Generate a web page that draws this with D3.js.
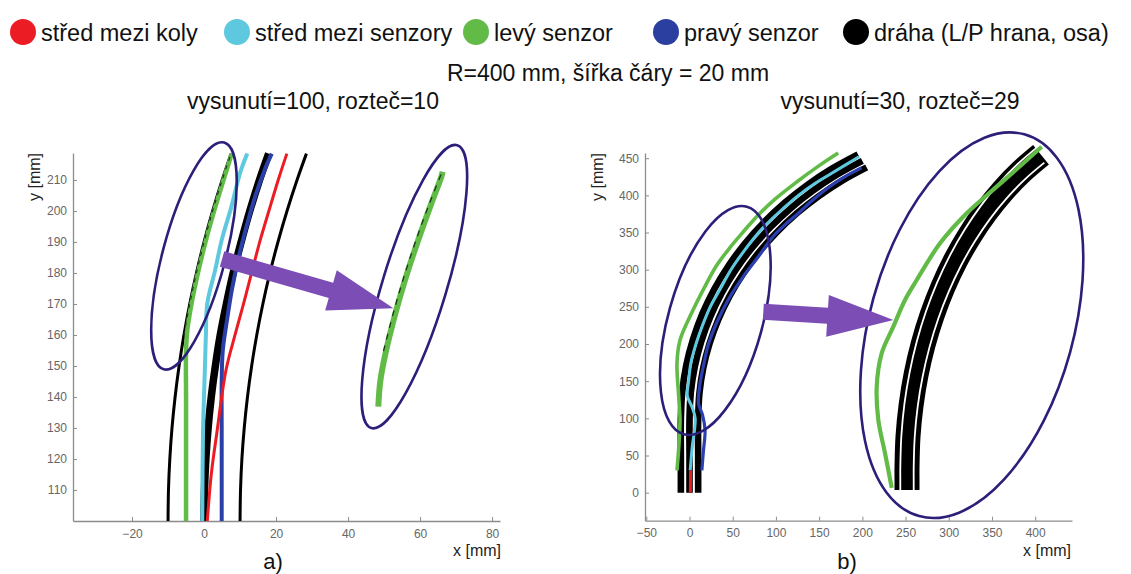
<!DOCTYPE html>
<html><head><meta charset="utf-8">
<script src="https://cdn.jsdelivr.net/npm/d3@7"></script>
<style>body{margin:0;background:#fff} svg text{font-family:"Liberation Sans",Arial,sans-serif}</style>
</head><body><svg id="c" width="1131" height="574"></svg>
<script>
// ---------- legend / titles ----------
const legendLabels = ["střed mezi koly","střed mezi senzory","levý senzor","pravý senzor","dráha (L/P hrana, osa)"];
const legendColors = ["#ec1c24","#5ec8de","#62bb46","#2b3fa0","#000000"];
const mainTitle = "R=400 mm, šířka čáry = 20 mm";
const subTitles = ["vysunutí=100, rozteč=10","vysunutí=30, rozteč=29"];
const panelLabels = ["a)","b)"];
const axisLabelX = "x [mm]", axisLabelY = "y [mm]";

// ---------- panel a) data (mm) ----------
const a_xTicks = [-20,0,20,40,60,80];
const a_yTicks = [110,120,130,140,150,160,170,180,190,200,210];
const a_trackY = [100,110,120,130,140,150,160,170,180,190,200,210,218.5];
const a_trackL = [-10,-9.88,-9.51,-8.9,-8.04,-6.94,-5.59,-3.98,-2.12,0,2.38,5.03,7.5];
const a_trackC = [0,0.13,0.5,1.13,2.0,3.14,4.5,6.2,8.1,10.3,12.7,15.4,17.95];
const a_trackR = [10,10.13,10.51,11.16,12.06,13.22,14.64,16.33,18.29,20.53,23.04,25.83,28.44];
const a_blueX = [4.9,4.9,4.9,5.2,6.4,7.8,9.6,11.8,14.3,17.1,18.8];
const a_blueY = [100,130,145,155,165,175,185,195,205,214,218.5];
const a_cyanX = [-0.5,-0.3,0.2,0.5,0.9,3.1,4.9,7.6,10,12];
const a_cyanY = [100,128,148,159.5,170.2,181,190.6,201.4,212.2,218.5];
const a_greenX = [-5,-5,-5,-5,-4.6,-3.5,-1.7,0.4,2.8,5.4,7.3,7.6];
const a_greenY = [100,120,140,155,162,170,180,190,200,210,217,218.5];
const a_redX = [0.9,2.0,3.5,6.1,8.6,11.0,13.2,15.6,18.0,20.6,23];
const a_redY = [100,115,128,148.7,160,170.2,180,190.6,200,210,218.5];

// ---------- panel b) data (mm) ----------
const b_xTicks = [-50,0,50,100,150,200,250,300,350,400];
const b_yTicks = [0,50,100,150,200,250,300,350,400,450];
const b_trackLX = [-10,-10,-10,-8.4,-3.8,4.0,14.7,28.4,44.9,64.1,85.9,110.1,136.5,164.8,195];
const b_trackLY = [0,50,100,135.7,171.2,206.1,240.2,273.3,305,335.2,363.5,389.9,414.1,435.9,455.1];
const b_trackCX = [0,0,0,1.5,6.1,13.6,24.1,37.5,53.6,72.3,93.6,117.2,142.9,170.6,200];
const b_trackCY = [0,50,100,134.9,169.4,203.5,236.8,269,300,329.4,357.1,382.8,406.4,427.7,446.4];
const b_trackRX = [10,10,10,11.5,15.9,23.3,33.5,46.5,62.3,80.5,101.3,124.2,149.3,176.3,205];
const b_trackRY = [0,50,100,134,167.7,200.9,233.4,264.8,295,323.7,350.7,375.8,398.7,419.5,437.7];
const b_redX = [1,1.2,1.4,1.8,3,7,14,24.5,38,54,72.5,94,117.5,143,170.5,199];
const b_redY = [0,30,60,100,135,169.4,203.5,236.8,269,300,329.4,357.1,382.8,406.4,427.7,446];
const b_greenX = [-14.5,-12.5,-11,-12.5,-14.5,-11,0.5,19,31,47,63,79,99,124,150,172];
const b_greenY = [30,60,98,130,174,205,237,280,305,330,352,373,395,418,440,457];
const b_cyanX = [0.8,3,6.6,3,-2.5,-1,1.5,7.5,15,24,36,48,63,80,95,108,126,145,165,182,196];
const b_cyanY = [30,60,100,115,130,150,174,200,225,250,275,300,325,350,368,382,400,416,430,442,452];
const b_blueX = [14.3,16,18,15,10.4,12,16,22,32,46,63,80,97,112,126,143,160,178,199];
const b_blueY = [30,55,84,105,120,145,170,200,230,262,292,318,345,362,376,394,410,424,437];
// magnified inset of b) (ideal left-sensor path)
const bi_greenX = [-22.8,-32.8,-42.8,-45.2,-37.8,-20.4,-3,14.5,49.3,89.1,133.9,173.6,201];
const bi_greenY = [10,116.3,153.1,189.9,226.8,256.3,285.8,307.9,348.5,381.7,411.1,437,455.3];

// ---------- annotations (data coords of each panel) ----------
const a_ellipses = [{cx:-2.8, cy:185.5, rx:31.4, ry:117.3, rot:14.9},{cx:58.4, cy:175.6, rx:32.1, ry:147.8, rot:16.9}];
const a_arrow = {x0:5.0, y0:184.5, x1:52.6, y1:168.6, hl:65};
const b_ellipses = [{cx:29.9, cy:231.6, rx:47.1, ry:118.1, rot:15.5},{cx:326.6, cy:225.3, rx:102, ry:198, rot:15.4}];
const b_arrow = {x0:85.4, y0:243.4, x1:235.9, y1:232.3, hl:66};

const svg = d3.select("#c");
const line = (xs, ys) => d3.line().x(d=>xs(d[0])).y(d=>ys(d[1])).curve(d3.curveCatmullRom.alpha(0.5));

// legend
const legendX = [23,237,476,666,856];
const lg = svg.append("g");
legendLabels.forEach((t,i)=>{
  lg.append("circle").attr("cx",legendX[i]).attr("cy",32).attr("r",13).attr("fill",legendColors[i]);
  lg.append("text").attr("x",legendX[i]+18).attr("y",41).attr("font-size",23.5).attr("fill","#111").text(t);
});
svg.append("text").attr("x",608).attr("y",81).attr("text-anchor","middle").attr("font-size",23).attr("fill","#111").text(mainTitle);
svg.append("text").attr("x",313).attr("y",109).attr("text-anchor","middle").attr("font-size",23).attr("fill","#111").text(subTitles[0]);
svg.append("text").attr("x",900).attr("y",109).attr("text-anchor","middle").attr("font-size",23).attr("fill","#111").text(subTitles[1]);
svg.append("text").attr("x",273).attr("y",569).attr("text-anchor","middle").attr("font-size",22).attr("fill","#111").text(panelLabels[0]);
svg.append("text").attr("x",847).attr("y",569).attr("text-anchor","middle").attr("font-size",22).attr("fill","#111").text(panelLabels[1]);

function axes(g, xs, ys, xt, yt, xlabX, ylabX){
  const ax = g.append("g").attr("transform",`translate(0,${ys.range()[0]})`)
    .call(d3.axisBottom(xs).tickValues(xt).tickSizeInner(-4).tickSizeOuter(0).tickPadding(8));
  const ay = g.append("g").attr("transform",`translate(${xs.range()[0]},0)`)
    .call(d3.axisLeft(ys).tickValues(yt).tickSizeInner(-4).tickSizeOuter(0).tickPadding(6));
  [ax,ay].forEach(a=>{
    a.select(".domain").attr("stroke","#8c8c8c").attr("stroke-width",1.3);
    a.selectAll(".tick line").attr("stroke","#8c8c8c");
    a.selectAll(".tick text").attr("fill","#666").attr("font-size",12).attr("font-family","Liberation Sans, Arial, sans-serif");
  });
  g.append("text").attr("x",xlabX).attr("y",556).attr("text-anchor","end").attr("font-size",16).attr("fill","#222").text(axisLabelX);
  g.append("text").attr("transform",`translate(${ylabX},177) rotate(-90)`).attr("text-anchor","middle").attr("font-size",16).attr("fill","#222").text(axisLabelY);
}
function ellipse(g, xs, ys, e){
  g.append("ellipse").attr("transform",`translate(${xs(e.cx)},${ys(e.cy)}) rotate(${e.rot})`)
   .attr("rx",e.rx).attr("ry",e.ry).attr("fill","none").attr("stroke","#2c1f7a").attr("stroke-width",2.6);
}
function arrow(g, xs, ys, a){
  const S=[xs(a.x0),ys(a.y0)], T=[xs(a.x1),ys(a.y1)];
  const L=Math.hypot(T[0]-S[0],T[1]-S[1]); const u=[(T[0]-S[0])/L,(T[1]-S[1])/L]; const n=[-u[1],u[0]];
  const B=[T[0]-u[0]*a.hl, T[1]-u[1]*a.hl]; const w=8, h=21;
  const p=(P,k)=>[P[0]+n[0]*k,P[1]+n[1]*k];
  const pts=[p(S,w),p(B,w),p(B,h),T,p(B,-h),p(B,-w),p(S,-w)];
  g.append("polygon").attr("points",pts.map(q=>q.join(",")).join(" ")).attr("fill","#7b4db5");
}
function path(g, xs, ys, X, Y, color, w){
  return g.append("path").datum(d3.zip(X,Y)).attr("d",line(xs,ys)).attr("fill","none")
    .attr("stroke",color).attr("stroke-width",w).attr("stroke-linecap","butt").attr("stroke-linejoin","round");
}

// ---------- panel a ----------
const xa = d3.scaleLinear().domain([-36.4,82.2]).range([73,500]);
const ya = d3.scaleLinear().domain([100,218.7]).range([521,153]);
const ga = svg.append("g");
axes(ga, xa, ya, a_xTicks, a_yTicks, 501, 40);
path(ga,xa,ya,a_trackL,a_trackY,"#000",3);
path(ga,xa,ya,a_trackR,a_trackY,"#000",3);
path(ga,xa,ya,a_trackC,a_trackY,"#000",7.5);
path(ga,xa,ya,a_blueX,a_blueY,"#2b3fa8",4);
path(ga,xa,ya,a_cyanX,a_cyanY,"#5ec8de",4);
path(ga,xa,ya,a_greenX,a_greenY,"#62bb46",4.5);
path(ga,xa,ya,a_redX,a_redY,"#ec1c24",3);
const a_edgeTop = d3.zip(a_trackL,a_trackY).filter(d=>d[1]>=160);
ga.append("path").datum(a_edgeTop).attr("d",line(xa,ya)).attr("fill","none").attr("stroke","#1a3a1a").attr("stroke-width",1.2).attr("stroke-dasharray","4,5");
// a) magnified inset
const xai = d3.scaleLinear().domain([-5,7.6]).range([378.3,442.7]);
const yai = d3.scaleLinear().domain([155,218.5]).range([406.7,171.7]);
const gInA = d3.zip(a_greenX,a_greenY).filter(d=>d[1]>=155);
ga.append("path").datum(gInA).attr("d",line(xai,yai)).attr("fill","none").attr("stroke","#62bb46").attr("stroke-width",6);
const eInA = d3.zip(a_trackL,a_trackY).filter(d=>d[1]>=165);
ga.append("path").datum(eInA).attr("d",line(xai,yai)).attr("fill","none").attr("stroke","#1a3a1a").attr("stroke-width",1.3).attr("stroke-dasharray","6,6");
a_ellipses.forEach(e=>ellipse(ga,xa,ya,e));
arrow(ga,xa,ya,a_arrow);

// ---------- panel b ----------
const xb = d3.scaleLinear().domain([-51.5,442.6]).range([645,1072]);
const yb = d3.scaleLinear().domain([-37.7,457]).range([520.7,153]);
const gb = svg.append("g");
axes(gb, xb, yb, b_xTicks, b_yTicks, 1071, 603);
path(gb,xb,yb,b_redX,b_redY,"#ec1c24",3);
path(gb,xb,yb,b_trackLX,b_trackLY,"#000",6.6);
path(gb,xb,yb,b_trackCX,b_trackCY,"#000",6.6);
path(gb,xb,yb,b_trackRX,b_trackRY,"#000",6.6);
path(gb,xb,yb,b_blueX,b_blueY,"#2b3fb0",3.2);
path(gb,xb,yb,b_cyanX,b_cyanY,"#5ec8de",3);
path(gb,xb,yb,b_greenX,b_greenY,"#62bb46",3.6);
const redStart = d3.zip(b_redX,b_redY).filter(d=>d[1]<=30);
gb.append("path").datum(redStart).attr("d",line(xb,yb)).attr("fill","none").attr("stroke","#ec1c24").attr("stroke-width",3);
// b) magnified inset: wide track band with white separators along the edges
const xbi = d3.scaleLinear().domain([0,200]).range([907,1041]);
const ybi = d3.scaleLinear().domain([0,100,455]).range([490,468,147]);
path(gb,xbi,ybi,b_trackCX,b_trackCY,"#000",25);
path(gb,xbi,ybi,b_trackLX,b_trackLY,"#fff",1.8);
path(gb,xbi,ybi,b_trackRX,b_trackRY,"#fff",1.8);
path(gb,xbi,ybi,bi_greenX,bi_greenY,"#62bb46",4.2);
b_ellipses.forEach(e=>ellipse(gb,xb,yb,e));
arrow(gb,xb,yb,b_arrow);
</script></body></html>
